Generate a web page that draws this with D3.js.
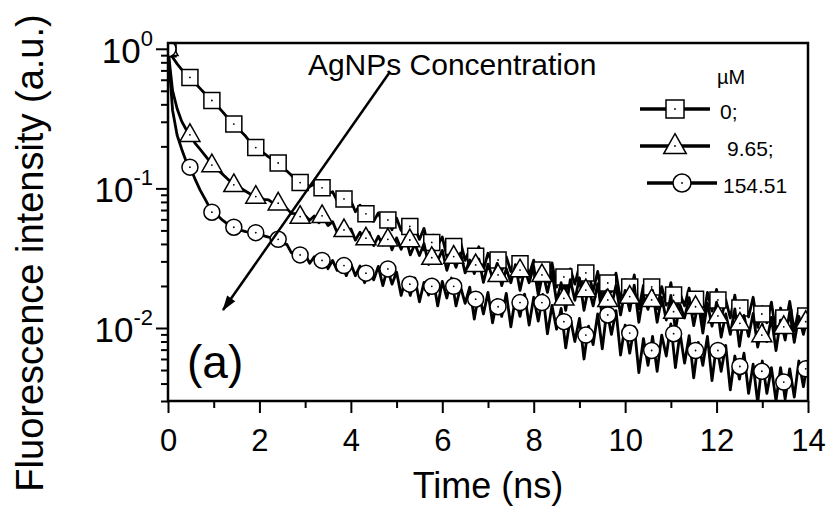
<!DOCTYPE html>
<html>
<head>
<meta charset="utf-8">
<script src="https://cdn.jsdelivr.net/npm/d3@7"></script>
<style>
  body { margin: 0; background: #fff; }
  svg { display: block; font-family: "Liberation Sans", Arial, sans-serif; }
</style>
</head>
<body>
<div id="chart"></div>
<script>
// legend labels (AgNPs concentration, uM)
const concentrations = ["0;", "9.65;", "154.51"];
const legendUnit = "\u00b5M";
const symbolKinds = ["square", "triangle", "circle"];

// decay traces, every 0.1 ns
const traceTimes = [
  0.0, 0.1, 0.2, 0.3, 0.4, 0.5, 0.6, 0.7, 0.8, 0.9,
  1.0, 1.1, 1.2, 1.3, 1.4, 1.5, 1.6, 1.7, 1.8, 1.9,
  2.0, 2.1, 2.2, 2.3, 2.4, 2.5, 2.6, 2.7, 2.8, 2.9,
  3.0, 3.1, 3.2, 3.3, 3.4, 3.5, 3.6, 3.7, 3.8, 3.9,
  4.0, 4.1, 4.2, 4.3, 4.4, 4.5, 4.6, 4.7, 4.8, 4.9,
  5.0, 5.1, 5.2, 5.3, 5.4, 5.5, 5.6, 5.7, 5.8, 5.9,
  6.0, 6.1, 6.2, 6.3, 6.4, 6.5, 6.6, 6.7, 6.8, 6.9,
  7.0, 7.1, 7.2, 7.3, 7.4, 7.5, 7.6, 7.7, 7.8, 7.9,
  8.0, 8.1, 8.2, 8.3, 8.4, 8.5, 8.6, 8.7, 8.8, 8.9,
  9.0, 9.1, 9.2, 9.3, 9.4, 9.5, 9.6, 9.7, 9.8, 9.9,
  10.0, 10.1, 10.2, 10.3, 10.4, 10.5, 10.6, 10.7, 10.8, 10.9,
  11.0, 11.1, 11.2, 11.3, 11.4, 11.5, 11.6, 11.7, 11.8, 11.9,
  12.0, 12.1, 12.2, 12.3, 12.4, 12.5, 12.6, 12.7, 12.8, 12.9,
  13.0, 13.1, 13.2, 13.3, 13.4, 13.5, 13.6, 13.7, 13.8, 13.9,
  14.0
];

const trace0 = [
  1.0, 0.87, 0.78, 0.71, 0.66, 0.615, 0.565, 0.52, 0.48, 0.445,
  0.415, 0.383, 0.352, 0.322, 0.298, 0.276, 0.255, 0.236, 0.214, 0.199,
  0.186, 0.178, 0.168, 0.160, 0.152, 0.142, 0.133, 0.124, 0.116, 0.110,
  0.108, 0.103, 0.107, 0.096, 0.101, 0.0917, 0.0946, 0.0818, 0.0876, 0.0770,
  0.0815, 0.0681, 0.0759, 0.0643, 0.0686, 0.0581, 0.0668, 0.0567, 0.0601, 0.0506,
  0.0612, 0.0500, 0.0567, 0.0441, 0.0520, 0.0431, 0.0517, 0.0375, 0.0463, 0.0392,
  0.0448, 0.0326, 0.0416, 0.0338, 0.0411, 0.0305, 0.0365, 0.0298, 0.0382, 0.0262,
  0.0343, 0.0291, 0.0340, 0.0256, 0.0323, 0.0254, 0.0325, 0.0231, 0.0289, 0.0242,
  0.0306, 0.0203, 0.0283, 0.0213, 0.0293, 0.0196, 0.0254, 0.0178, 0.0265, 0.0206,
  0.0278, 0.0174, 0.0244, 0.0184, 0.0254, 0.0158, 0.0225, 0.0181, 0.0247, 0.0159,
  0.0222, 0.0168, 0.0240, 0.0137, 0.0202, 0.0165, 0.0214, 0.0137, 0.0198, 0.0146,
  0.0211, 0.0125, 0.0177, 0.0144, 0.0193, 0.0126, 0.0175, 0.0111, 0.0180, 0.0132,
  0.0189, 0.0116, 0.0160, 0.0118, 0.0172, 0.0099, 0.0157, 0.0120, 0.0166, 0.0101,
  0.0142, 0.0109, 0.0153, 0.0091, 0.0139, 0.0103, 0.0155, 0.0095, 0.0136, 0.0103,
  0.0138
];

const trace965 = [
  1.0, 0.501, 0.372, 0.302, 0.263, 0.237, 0.209, 0.191, 0.174, 0.158,
  0.145, 0.135, 0.126, 0.117, 0.110, 0.105, 0.100, 0.0955, 0.0912, 0.0881,
  0.0861, 0.0835, 0.0828, 0.0784, 0.0782, 0.0728, 0.0716, 0.0662, 0.0660, 0.0620,
  0.0636, 0.0592, 0.0634, 0.0567, 0.0614, 0.0541, 0.0578, 0.0483, 0.0527, 0.0465,
  0.0513, 0.0426, 0.0485, 0.0420, 0.0483, 0.0389, 0.0454, 0.0393, 0.0465, 0.0363,
  0.0442, 0.0366, 0.0443, 0.0334, 0.0400, 0.0331, 0.0402, 0.0285, 0.0363, 0.0305,
  0.0360, 0.0259, 0.0335, 0.0272, 0.0345, 0.0248, 0.0307, 0.0245, 0.0312, 0.0212,
  0.0287, 0.0229, 0.0290, 0.0201, 0.0266, 0.0211, 0.0284, 0.0186, 0.0262, 0.0211,
  0.0276, 0.0172, 0.0249, 0.0180, 0.0253, 0.0155, 0.0211, 0.0134, 0.0222, 0.0158,
  0.0229, 0.0134, 0.0195, 0.0144, 0.0208, 0.0120, 0.0187, 0.0143, 0.0202, 0.0124,
  0.0186, 0.0133, 0.0203, 0.0110, 0.0173, 0.0136, 0.0186, 0.0110, 0.0166, 0.0114,
  0.0171, 0.0097, 0.0146, 0.0118, 0.0165, 0.0104, 0.0152, 0.0092, 0.0151, 0.0103,
  0.0153, 0.0086, 0.0126, 0.0090, 0.0137, 0.0074, 0.0123, 0.0087, 0.0127, 0.0073,
  0.0106, 0.0080, 0.0119, 0.0069, 0.0114, 0.0082, 0.0131, 0.0079, 0.0121, 0.0090,
  0.0125
];

const trace15451 = [
  1.0, 0.363, 0.240, 0.191, 0.155, 0.138, 0.115, 0.0977, 0.0851, 0.0741,
  0.0676, 0.0631, 0.0589, 0.0556, 0.0531, 0.0513, 0.0501, 0.0490, 0.0484, 0.0479,
  0.0468, 0.0457, 0.0447, 0.0442, 0.0437, 0.0400, 0.0397, 0.0345, 0.0353, 0.0311,
  0.0337, 0.0291, 0.0324, 0.0284, 0.0314, 0.0266, 0.0305, 0.0259, 0.0296, 0.0237,
  0.0288, 0.0237, 0.0278, 0.0211, 0.0264, 0.0221, 0.0276, 0.0201, 0.0266, 0.0206,
  0.0252, 0.0171, 0.0226, 0.0171, 0.0228, 0.0154, 0.0212, 0.0172, 0.0224, 0.0144,
  0.0216, 0.0164, 0.0228, 0.0144, 0.0197, 0.0150, 0.0196, 0.0116, 0.0178, 0.0126,
  0.0180, 0.0109, 0.0160, 0.0121, 0.0177, 0.0102, 0.0166, 0.0121, 0.0175, 0.0105,
  0.0166, 0.0112, 0.0174, 0.0091, 0.0145, 0.0098, 0.0138, 0.0072, 0.0118, 0.0080,
  0.0117, 0.0060, 0.0103, 0.0076, 0.0126, 0.0071, 0.0134, 0.0090, 0.0133, 0.0064,
  0.0105, 0.0066, 0.0102, 0.0048, 0.0084, 0.0054, 0.0087, 0.0049, 0.0089, 0.0063,
  0.0107, 0.0052, 0.0092, 0.0056, 0.0088, 0.0044, 0.0079, 0.0054, 0.0087, 0.0042,
  0.0076, 0.0049, 0.0075, 0.0036, 0.0063, 0.0043, 0.0066, 0.0034, 0.0055, 0.0029,
  0.0058, 0.0034, 0.0052, 0.0030, 0.0052, 0.0031, 0.0051, 0.0032, 0.0058, 0.0038,
  0.0059
];

// symbols sit on the traces every ~0.48 ns
const markerTimes = [0, 0.48, 0.96, 1.44, 1.92, 2.41, 2.89, 3.37, 3.85, 4.33,
  4.81, 5.29, 5.77, 6.25, 6.73, 7.22, 7.70, 8.18, 8.66, 9.14,
  9.62, 10.10, 10.58, 11.06, 11.54, 12.03, 12.51, 12.99, 13.47, 13.95];

const markers0 = [1.0, 0.623, 0.426, 0.289, 0.196, 0.152, 0.110, 0.101, 0.0841, 0.0657,
  0.0594, 0.0534, 0.0410, 0.0383, 0.0327, 0.0307, 0.0288, 0.0260, 0.0232, 0.0248,
  0.0210, 0.0197, 0.0197, 0.0172, 0.0161, 0.0159, 0.0139, 0.0126, 0.0118, 0.0122];

const markers965 = [1.0, 0.242, 0.147, 0.106, 0.0874, 0.0783, 0.0628, 0.0636, 0.0504, 0.0440,
  0.0432, 0.0427, 0.0319, 0.0325, 0.0283, 0.0240, 0.0260, 0.0240, 0.0163, 0.0187,
  0.0159, 0.0168, 0.0159, 0.0131, 0.0142, 0.0122, 0.0108, 0.0089, 0.0102, 0.0111];

const markers15451 = [1.0, 0.142, 0.0675, 0.0527, 0.0482, 0.0432, 0.0334, 0.0305, 0.0280, 0.0247,
  0.0265, 0.0206, 0.0199, 0.0199, 0.0161, 0.0142, 0.0152, 0.0152, 0.0111, 0.0089,
  0.0124, 0.0092, 0.0069, 0.0091, 0.0069, 0.0069, 0.0053, 0.0049, 0.0041, 0.0051];

const xTicks = [0, 2, 4, 6, 8, 10, 12, 14];
const xMinorTicks = [1, 3, 5, 7, 9, 11, 13];
const yTicks = [1, 0.1, 0.01];
const yMinorTicks = [0.003, 0.004, 0.005, 0.006, 0.007, 0.008, 0.009,
  0.02, 0.03, 0.04, 0.05, 0.06, 0.07, 0.08, 0.09,
  0.2, 0.3, 0.4, 0.5, 0.6, 0.7, 0.8, 0.9];

const annotationText = "AgNPs Concentration";
const panelLabel = "(a)";

const series = [
    { label: concentrations[0], kind: symbolKinds[0], trace: trace0, markers: markers0 },
    { label: concentrations[1], kind: symbolKinds[1], trace: trace965, markers: markers965 },
    { label: concentrations[2], kind: symbolKinds[2], trace: trace15451, markers: markers15451 }
];

const margin = { top: 43, right: 24, bottom: 110, left: 168 },
    width = 832 - margin.left - margin.right,
    height = 511 - margin.top - margin.bottom;

const svg = d3.select("#chart").append("svg")
    .attr("width", 832)
    .attr("height", 511);

const g = svg.append("g")
    .attr("transform", `translate(${margin.left},${margin.top})`);

const x = d3.scaleLinear().domain([0, 14]).range([0, width]);
const y = d3.scaleLog().domain([0.003, 1.1]).range([height, 0]);

svg.append("defs").append("clipPath")
    .attr("id", "plot-clip")
    .append("rect")
    .attr("width", width)
    .attr("height", height);

// marker outline: square, triangle or circle of nominal size s
function markerPath(kind, s) {
    const p = d3.path();
    if (kind === "square") {
        p.rect(-s / 2, -s / 2, s, s);
    } else if (kind === "triangle") {
        const w = s * 1.25, h = s * 1.1;
        p.moveTo(0, -h * 0.62);
        p.lineTo(w / 2, h * 0.38);
        p.lineTo(-w / 2, h * 0.38);
        p.closePath();
    } else {
        p.arc(0, 0, s / 2, 0, 2 * Math.PI);
    }
    return p.toString();
}

const line = d3.line()
    .x(d => x(d[0]))
    .y(d => y(d[1]));

const plot = g.append("g").attr("clip-path", "url(#plot-clip)");

series.forEach(s => {
    plot.append("path")
        .datum(traceTimes.map((t, i) => [t, s.trace[i]]))
        .attr("d", line)
        .attr("fill", "none")
        .attr("stroke", "#000")
        .attr("stroke-width", 2.8)
        .attr("stroke-linejoin", "round");

    const m = plot.append("g")
        .selectAll("g")
        .data(markerTimes.map((t, i) => [t, s.markers[i]]))
        .enter().append("g")
        .attr("transform", d => `translate(${x(d[0])},${y(d[1])})`);
    m.append("path")
        .attr("d", markerPath(s.kind, 16))
        .attr("fill", "#fff")
        .attr("stroke", "#000")
        .attr("stroke-width", 1.5);
    m.append("circle")
        .attr("r", 0.9)
        .attr("fill", "#000");
});

// axes
const xAxis = g.append("g")
    .attr("transform", `translate(0,${height})`)
    .call(d3.axisBottom(x).tickValues(xTicks).tickSize(12).tickFormat(d3.format("d")));
xAxis.selectAll("text")
    .attr("y", 50)
    .attr("dy", null)
    .style("font-size", "31px")
    .style("font-family", "Liberation Sans, Arial, sans-serif")
    .attr("fill", "#000");

const xMinor = g.append("g")
    .attr("transform", `translate(0,${height})`)
    .call(d3.axisBottom(x).tickValues(xMinorTicks).tickSize(7).tickFormat(""));

const yAxis = g.append("g")
    .call(d3.axisLeft(y).tickValues(yTicks).tickSize(12).tickFormat(""));
const yMinor = g.append("g")
    .call(d3.axisLeft(y).tickValues(yMinorTicks).tickSize(7).tickFormat(""));

[xAxis, xMinor, yAxis, yMinor].forEach(a => {
    a.select(".domain").remove();
    a.selectAll(".tick line").attr("stroke", "#000").attr("stroke-width", 2);
});

// 10^n labels
const yLabels = g.append("g").selectAll("text")
    .data(yTicks)
    .enter().append("text")
    .attr("x", -15)
    .attr("y", d => y(d) + 14)
    .attr("text-anchor", "end")
    .attr("fill", "#000");
yLabels.append("tspan")
    .style("font-size", "35px")
    .text("10");
yLabels.append("tspan")
    .attr("dy", -17)
    .style("font-size", "22px")
    .text(d => Math.round(Math.log10(d)));

// frame
g.append("rect")
    .attr("width", width)
    .attr("height", height)
    .attr("fill", "none")
    .attr("stroke", "#000")
    .attr("stroke-width", 2.5);

// axis titles
svg.append("text")
    .attr("x", margin.left + width / 2)
    .attr("y", 498)
    .attr("text-anchor", "middle")
    .style("font-size", "36px")
    .text("Time (ns)");

svg.append("text")
    .attr("transform", "translate(43,253) rotate(-90)")
    .attr("text-anchor", "middle")
    .style("font-size", "38px")
    .text("Fluorescence intensity (a.u.)");

// annotation: text + arrow
svg.append("defs").append("marker")
    .attr("id", "arrowhead")
    .attr("viewBox", "0 -5 14 10")
    .attr("refX", 13)
    .attr("refY", 0)
    .attr("markerUnits", "userSpaceOnUse")
    .attr("markerWidth", 16)
    .attr("markerHeight", 11)
    .attr("orient", "auto")
    .append("path")
    .attr("d", "M0,-4.5L14,0L0,4.5Z")
    .attr("fill", "#000");

g.append("text")
    .attr("x", x(3.06))
    .attr("y", y(0.651))
    .style("font-size", "30px")
    .text(annotationText);

g.append("line")
    .attr("x1", x(4.857))
    .attr("y1", y(0.684))
    .attr("x2", x(1.203))
    .attr("y2", y(0.01345))
    .attr("stroke", "#000")
    .attr("stroke-width", 2.5)
    .attr("marker-end", "url(#arrowhead)");

g.append("text")
    .attr("x", x(0.416))
    .attr("y", y(0.00438))
    .style("font-size", "46px")
    .text(panelLabel);

// legend
const legend = svg.append("g");
legend.append("text")
    .attr("x", 717)
    .attr("y", 84)
    .style("font-size", "20px")
    .text(legendUnit);

const legendRows = [
    { y: 109, x0: 640, x1: 710, tx: 720 },
    { y: 146, x0: 640, x1: 710, tx: 727 },
    { y: 183, x0: 647, x1: 717, tx: 723 }
];

series.forEach((s, i) => {
    const r = legendRows[i];
    legend.append("line")
        .attr("x1", r.x0).attr("x2", r.x1)
        .attr("y1", r.y).attr("y2", r.y)
        .attr("stroke", "#000")
        .attr("stroke-width", 3.5);
    const mg = legend.append("g")
        .attr("transform", `translate(${(r.x0 + r.x1) / 2},${r.y})`);
    mg.append("path")
        .attr("d", markerPath(s.kind, 18))
        .attr("fill", "#fff")
        .attr("stroke", "#000")
        .attr("stroke-width", 1.5);
    mg.append("circle").attr("r", 0.9).attr("fill", "#000");
    legend.append("text")
        .attr("x", r.tx)
        .attr("y", r.y + 10)
        .style("font-size", "21px")
        .text(s.label);
});
</script>
</body>
</html>
